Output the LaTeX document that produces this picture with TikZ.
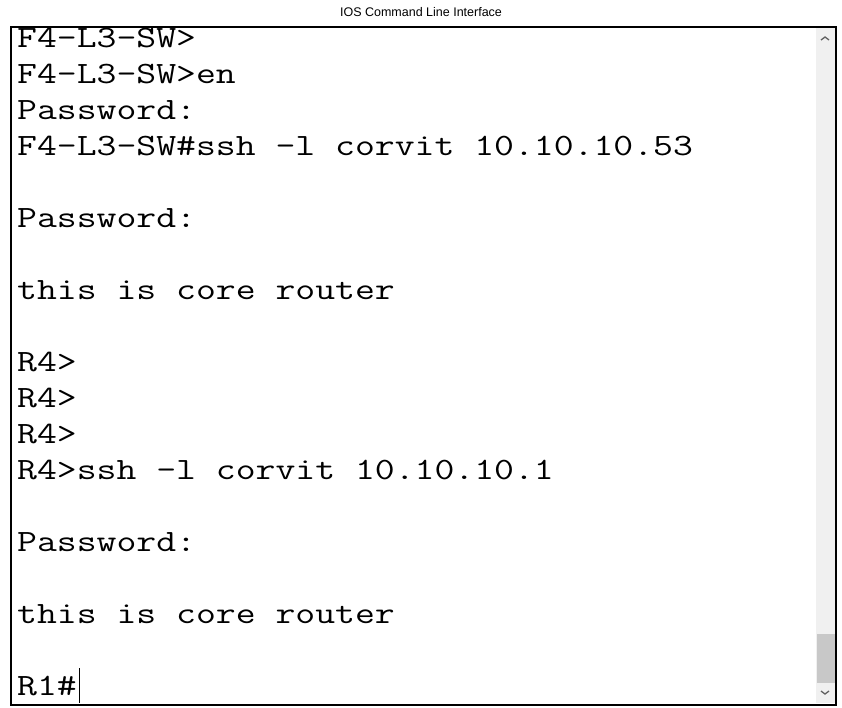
\documentclass[tikz,border=0pt]{standalone}
\usepackage{fontspec}
\usepackage{graphicx}
\usetikzlibrary{calc}
\setmainfont{Liberation Sans}
\definecolor{barbg}{HTML}{F0F0F0}
\definecolor{thumb}{HTML}{C8C8C8}
\definecolor{arrowgray}{HTML}{606060}
\newcommand{\wide}[1]{\scalebox{1.245}[1]{#1}}
\tikzset{
  term/.style={anchor=base west, inner sep=0pt, font=\ttfamily\fontsize{31}{36}\selectfont},
  chev/.style={draw=arrowgray, line width=1.3pt}
}
\begin{document}
\begin{tikzpicture}[x=1pt, y=-1pt]
        \useasboundingbox (0,0) rectangle (842,707);
        \node[font=\fontsize{12.5}{14}\selectfont] (title) at (421,12) {IOS Command Line Interface};

        % terminal text
        \begin{scope}
        \clip (11,28) rectangle (815,703);
        \node[term] (l1) at (17,47) {\wide{F4-L3-SW>}};
        \node[term] (l2) at (17,83) {\wide{F4-L3-SW>en}};
        \node[term] (l3) at (17,119) {\wide{Password:}};
        \node[term] (l4) at (17,155) {\wide{F4-L3-SW\#ssh -l corvit 10.10.10.53}};
        \node[term] (l6) at (17,227) {\wide{Password:}};
        \node[term] (l8) at (17,299) {\wide{this is core router}};
        \node[term] (l10) at (17,371) {\wide{R4>}};
        \node[term] (l11) at (17,407) {\wide{R4>}};
        \node[term] (l12) at (17,443) {\wide{R4>}};
        \node[term] (l13) at (17,479) {\wide{R4>ssh -l corvit 10.10.10.1}};
        \node[term] (l15) at (17,551) {\wide{Password:}};
        \node[term] (l17) at (17,623) {\wide{this is core router}};
        \node[term] (l19) at (17,695) {\wide{R1\#}};
        \end{scope}
        \coordinate (ctop) at (79,668);
        \coordinate (cbot) at (79,703);
        \draw [line width=1pt] (ctop) -- (cbot);

        % scrollbar
        \fill [barbg] (816,28) rectangle (835,703);
        \fill [thumb] (817,634) rectangle (835,683);
        \coordinate (up) at (825,37);
        \coordinate (down) at (825,694);
        \draw [chev] ($(up)+(-4,3)$) -- (up) -- ($(up)+(4,3)$);
        \draw [chev] ($(down)+(-4,-3)$) -- (down) -- ($(down)+(4,-3)$);

        % frame
        \draw [line width=2pt] (10.5,27) rectangle (836,704.5);
    \end{tikzpicture}
\end{document}
